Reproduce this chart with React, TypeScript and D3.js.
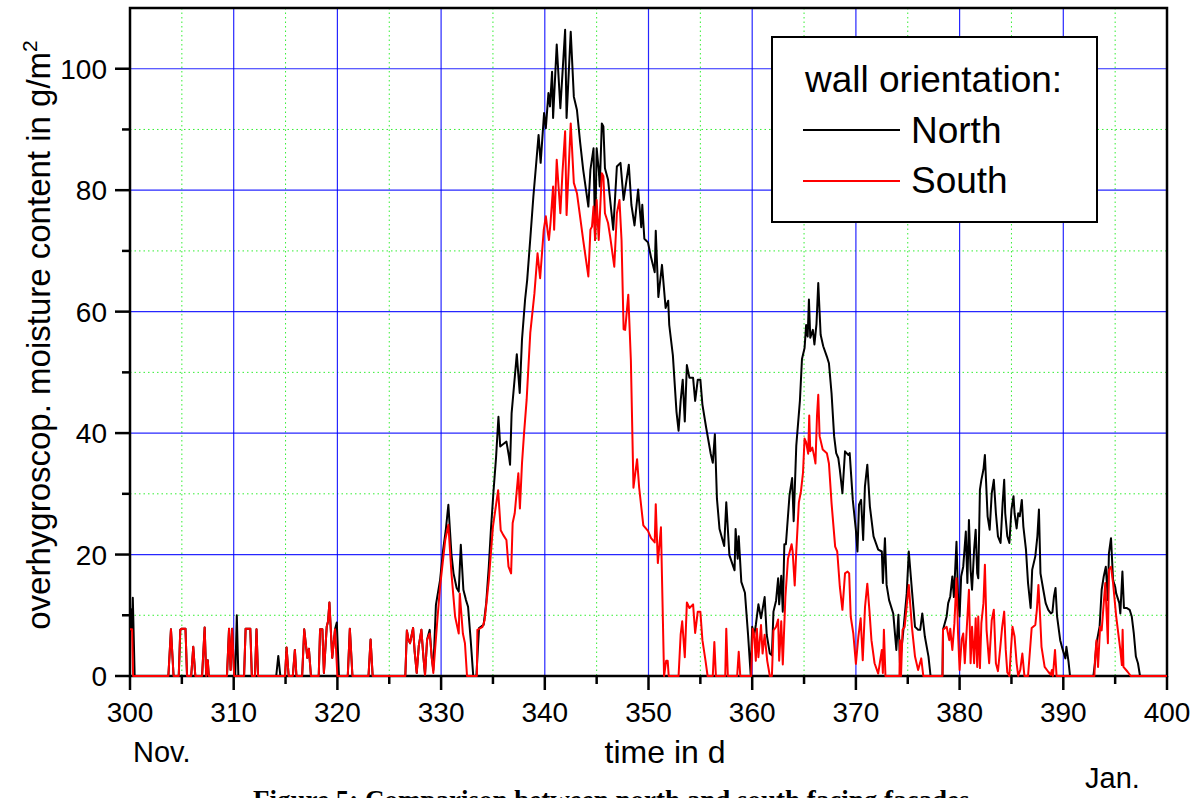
import React from "react";
import * as d3 from "d3";

// ---- data (day of year, overhygroscopic moisture content g/m²) ----
const northSeries: [number, number][] = [
  [300, 8.5], [300.1, 11], [300.2, 7.5], [300.27, 12.9], [300.45, 0],
  [303.7, 0], [303.95, 7.7], [304.2, 0],
  [304.7, 0], [304.85, 7.6], [305.0, 7.8], [305.35, 7.8], [305.5, 0],
  [305.9, 0], [306.1, 4.8], [306.3, 0],
  [306.95, 0], [307.2, 8], [307.35, 0], [307.5, 2.6], [307.6, 0],
  [309.35, 0], [309.55, 7.8], [309.7, 1], [309.85, 7.8], [310.05, 0], [310.15, 0], [310.3, 10], [310.45, 0],
  [311.0, 0], [311.15, 7.8], [311.6, 7.8], [311.75, 0],
  [312.05, 0], [312.2, 7.7], [312.35, 0],
  [314.1, 0], [314.3, 3.3], [314.5, 0],
  [314.95, 0], [315.1, 4.7], [315.3, 0],
  [315.7, 0], [315.9, 4.3], [316.05, 0],
  [316.6, 0], [316.8, 7.7], [317.1, 3], [317.25, 4.5], [317.45, 0],
  [318.2, 0], [318.33, 7.7], [318.55, 7.7], [318.7, 0.5], [318.97, 8.1], [319.1, 9], [319.23, 12.1], [319.5, 3],
  [319.77, 7.7], [319.94, 8.8], [320.15, 0],
  [321.0, 0], [321.2, 7.8], [321.45, 0],
  [323.0, 0], [323.2, 6], [323.4, 0],
  [326.55, 0], [326.7, 7.5], [326.85, 6], [327.0, 5.4], [327.3, 7.9], [327.45, 4], [327.65, 0.5], [327.85, 5],
  [328.1, 7.6], [328.3, 3], [328.45, 0.2], [328.65, 6], [328.9, 7.6], [329.1, 3], [329.25, 1],
  [329.5, 11.7], [329.9, 15.8], [330.2, 20.8], [330.45, 24], [330.7, 28.2], [331.0, 20], [331.2, 16.9],
  [331.5, 14.5], [331.7, 13.9], [331.9, 21.6], [332.15, 14.2], [332.4, 12.5], [332.6, 11.4], [332.85, 6],
  [333.1, 0], [333.4, 0], [333.66, 7.9], [333.9, 8.2], [334.1, 8.4], [334.35, 12], [334.6, 18], [334.8, 24],
  [335.04, 30.1], [335.3, 36], [335.53, 42.7], [335.7, 37.8], [336.0, 38.2], [336.3, 38.6], [336.55, 36.1],
  [336.65, 34.8], [336.8, 43.3], [337.3, 53], [337.58, 46.6], [337.8, 55.4], [338.1, 62], [338.3, 65.2],
  [338.6, 72], [338.9, 79], [339.15, 84], [339.4, 89.1], [339.6, 84.5], [339.93, 92.7], [340.1, 90.2],
  [340.35, 96], [340.5, 93.8], [340.7, 99.5], [340.8, 91.9], [341.15, 104], [341.5, 93.5], [341.96, 106.4],
  [342.1, 91.9], [342.5, 106.1], [342.8, 95.4], [343.1, 93.2], [343.4, 88], [343.7, 83.4], [344.2, 77.3],
  [344.4, 83.4], [344.7, 86.9], [344.85, 71.8], [345.0, 86.9], [345.2, 83.4], [345.3, 80.6], [345.5, 91],
  [345.65, 90.5], [345.8, 83.6], [346.1, 81.7], [346.6, 73.5], [346.95, 83.9], [347.3, 84.5], [347.6, 78.4],
  [348.1, 84.2], [348.35, 77.6], [348.65, 74.2], [349.0, 80.1], [349.3, 73.9], [349.4, 77.6], [349.6, 72],
  [349.95, 71.4], [350.25, 68.9], [350.6, 66.5], [350.7, 73.3], [350.95, 62.4], [351.3, 67.7], [351.65, 60.6],
  [351.9, 61.8], [352.0, 57.8], [352.35, 52.8], [352.7, 43.5], [352.9, 40.4], [353.1, 45.3], [353.3, 48.8],
  [353.5, 41.9], [353.7, 51.2], [353.95, 49.1], [354.3, 49.1], [354.5, 45.3], [354.75, 48.8], [355.0, 48.8],
  [355.2, 44.7], [355.55, 41], [356.0, 36.6], [356.2, 35.1], [356.4, 39.8], [356.6, 29.2], [356.85, 24.2],
  [357.3, 21.4], [357.5, 28.6], [357.8, 19.9], [358.3, 17.4], [358.4, 24.2], [358.6, 19.3], [358.7, 23],
  [358.95, 15.5], [359.3, 13.7], [359.6, 6.8], [359.85, 0.3], [360.0, 8.1], [360.2, 6.8], [360.35, 8.4],
  [360.6, 11.8], [360.85, 9.5], [361.2, 13], [361.4, 6.8], [361.7, 3.7], [361.9, 3.4], [362.05, 10.6],
  [362.3, 12.4], [362.5, 16.1], [362.6, 11.8], [362.8, 16.5], [362.95, 10.6], [363.1, 21.7], [363.25, 21.7],
  [363.6, 29.8], [363.85, 32.6], [364.0, 25.5], [364.25, 37.9], [364.6, 45.3], [364.8, 52.2], [365.05, 54],
  [365.2, 57.8], [365.35, 55.9], [365.47, 62], [365.6, 55.7], [365.85, 57], [366.0, 54.6], [366.2, 58],
  [366.37, 64.7], [366.6, 56.2], [366.85, 54.3], [367.2, 52.6], [367.4, 51.5], [367.65, 46.6], [367.9, 39.5],
  [368.1, 36.7], [368.3, 35.9], [368.45, 34], [368.7, 30.1], [368.95, 37], [369.26, 36.4], [369.4, 36.7],
  [369.7, 29], [370.0, 24], [370.15, 20.5], [370.3, 28.2], [370.5, 29], [370.7, 22.4], [370.87, 31.2],
  [371.1, 34.8], [371.35, 27.9], [371.7, 23], [372.15, 20.8], [372.5, 20.5], [372.6, 15.3], [372.8, 22.7],
  [372.96, 15], [373.2, 12.5], [373.6, 10.3], [373.9, 4.3], [374.1, 10.1], [374.25, 2.1], [374.55, 7],
  [374.9, 13.6], [375.1, 20.5], [375.4, 14.2], [375.7, 8.1], [376.0, 7.6], [376.2, 7.6], [376.4, 10.3],
  [376.65, 6.5], [377.0, 3.2], [377.2, 0], [378.35, 0], [378.4, 7.6], [378.75, 9.8], [378.9, 12],
  [379.1, 13.1], [379.3, 16.4], [379.45, 13], [379.7, 22.1], [379.85, 13.1], [380.0, 9.8], [380.15, 16.4],
  [380.35, 18], [380.6, 23.8], [380.75, 15.3], [380.9, 25.7], [381.06, 17.5], [381.2, 14.2], [381.4, 20.8],
  [381.55, 24.1], [381.7, 16.9], [381.8, 16.1], [381.96, 30.7], [382.1, 32.3], [382.3, 34], [382.44, 36.4],
  [382.7, 26.3], [382.9, 24.1], [383.1, 30.1], [383.3, 32.3], [383.5, 26.8], [383.7, 23], [383.95, 21.9],
  [384.15, 28.5], [384.3, 32.3], [384.4, 26.8], [384.6, 23], [384.8, 21.9], [385.0, 27.4], [385.2, 29.6],
  [385.3, 26.8], [385.5, 24.3], [385.65, 26.8], [385.8, 26.3], [386.0, 29], [386.15, 24.6], [386.4, 20.8],
  [386.6, 15.3], [386.85, 11.2], [387.0, 17.5], [387.3, 19.7], [387.5, 23], [387.65, 27.4], [387.8, 16.9],
  [388.07, 14.2], [388.3, 12], [388.55, 10.9], [388.8, 10.3], [388.95, 10.5], [389.1, 13.1], [389.25, 14.5],
  [389.4, 9.8], [389.7, 5.9], [389.95, 4.3], [390.2, 2.9], [390.3, 4.8], [390.5, 2.4], [390.65, 0],
  [392.9, 0], [393.05, 2.1], [393.2, 5.4], [393.5, 8.1], [393.7, 14.2], [393.9, 16.4], [394.1, 18],
  [394.3, 12.5], [394.4, 20.2], [394.6, 22.7], [394.8, 15.8], [395.0, 14.7], [395.1, 13.6], [395.4, 12],
  [395.5, 10.3], [395.7, 17.2], [395.85, 11.2], [396.1, 11.2], [396.4, 10.9], [396.6, 9.8], [396.8, 7],
  [397.0, 3.2], [397.2, 2.1], [397.4, 0], [400, 0],
];

const southSeries: [number, number][] = [
  [300, 7.7], [300.2, 7.7], [300.3, 0],
  [303.7, 0], [303.95, 7.7], [304.2, 0],
  [304.7, 0], [304.85, 7.6], [305.0, 7.8], [305.35, 7.8], [305.5, 0],
  [305.9, 0], [306.1, 4.8], [306.3, 0],
  [306.95, 0], [307.2, 8], [307.35, 0], [307.5, 2.6], [307.6, 0],
  [309.35, 0], [309.55, 7.8], [309.7, 1], [309.85, 7.8], [310.05, 0],
  [311.0, 0], [311.15, 7.8], [311.6, 7.8], [311.75, 0],
  [312.05, 0], [312.2, 7.7], [312.35, 0],
  [314.95, 0], [315.1, 4.7], [315.3, 0],
  [315.7, 0], [315.9, 4.3], [316.05, 0],
  [316.6, 0], [316.8, 7.7], [317.1, 3], [317.25, 4.5], [317.45, 0],
  [318.2, 0], [318.33, 7.7], [318.55, 7.7], [318.7, 0.5], [318.97, 8.1], [319.1, 9], [319.23, 12.1], [319.5, 3],
  [319.77, 7.7], [320.0, 0],
  [321.0, 0], [321.2, 7.8], [321.45, 0],
  [323.0, 0], [323.2, 6], [323.4, 0],
  [326.55, 0], [326.7, 7.5], [326.85, 6], [327.0, 5.4], [327.3, 7.9], [327.45, 4], [327.65, 0.5], [327.85, 5],
  [328.1, 7.6], [328.3, 3], [328.45, 0.2], [328.65, 6], [328.9, 7], [329.1, 3], [329.25, 0.5],
  [329.6, 8.4], [329.9, 14.7], [330.4, 22.4], [330.7, 24.9], [331.0, 16.9], [331.35, 9.8], [331.7, 7],
  [331.8, 13.6], [332.1, 7], [332.3, 5.4], [332.5, 0], [333.45, 0], [333.5, 7.6], [334.0, 8.1], [334.2, 9.2],
  [334.6, 15.8], [335.0, 24.6], [335.5, 30.6], [335.75, 24], [336.0, 23.2], [336.3, 22.4], [336.5, 18],
  [336.75, 16.9], [336.9, 25.2], [337.1, 26.8], [337.45, 33.4], [337.6, 27.6], [337.8, 35], [338.0, 40],
  [338.25, 45.5], [338.6, 56.5], [339.0, 63], [339.3, 69.6], [339.55, 65.5], [339.9, 73.5], [340.1, 75.7],
  [340.3, 72.9], [340.4, 71.8], [340.55, 74.6], [340.8, 80.6], [340.9, 73.5], [341.15, 85], [341.5, 76.2],
  [341.7, 82.8], [341.96, 89.7], [342.1, 75.9], [342.5, 91], [342.8, 81.2], [343.1, 79.5], [343.4, 75.7],
  [343.7, 71.8], [344.2, 65.8], [344.4, 73.5], [344.55, 74], [344.7, 77.3], [344.85, 71.8], [345.0, 78.4],
  [345.2, 71.8], [345.5, 82.8], [345.65, 82.3], [345.8, 76.2], [346.1, 74.6], [346.3, 72.4], [346.7, 67.4],
  [346.95, 76.2], [347.2, 78.4], [347.4, 71.8], [347.6, 57.1], [347.75, 57], [348.05, 62.8], [348.3, 52],
  [348.55, 31], [348.9, 35.7], [349.1, 31], [349.5, 24.8], [349.95, 23.9], [350.25, 22.7], [350.6, 22],
  [350.7, 28.3], [350.9, 18.6], [351.2, 24.5], [351.5, 0], [351.7, 2.5], [351.85, 2.5], [351.95, 0],
  [352.9, 0], [353.1, 6.8], [353.25, 9], [353.5, 3.1], [353.7, 12.1], [353.95, 11.2], [354.3, 11.8],
  [354.5, 7.1], [354.75, 10.6], [355.0, 10.6], [355.2, 5.9], [355.5, 2.5], [355.7, 0], [356.2, 0],
  [356.35, 5.6], [356.5, 0], [357.4, 0], [357.5, 7.8], [357.65, 0], [358.55, 0], [358.7, 4], [358.85, 0],
  [359.9, 0], [360.05, 7.8], [360.2, 6.8], [360.35, 2.5], [360.45, 7.8], [360.6, 3.1], [360.85, 8.4],
  [361.0, 3.7], [361.2, 6.8], [361.45, 2.5], [361.7, 0], [361.9, 0], [362.05, 7.5], [362.3, 8.1],
  [362.5, 9.3], [362.6, 2.5], [362.8, 9], [362.95, 1.9], [363.2, 13], [363.45, 19.3], [363.8, 21.7],
  [363.9, 20.5], [364.1, 14.9], [364.25, 20.5], [364.5, 28.6], [364.7, 30.4], [364.9, 33.5], [365.05, 39.1],
  [365.2, 38.5], [365.4, 36.6], [365.5, 42.9], [365.6, 37], [365.8, 37.6], [366.0, 36], [366.1, 35],
  [366.25, 42.9], [366.37, 46.3], [366.5, 39.5], [366.8, 37.3], [367.2, 36.7], [367.4, 35], [367.65, 28.5],
  [368.0, 21.3], [368.2, 20.5], [368.45, 14.7], [368.7, 10.9], [368.95, 16.9], [369.2, 17.2], [369.35, 16.9],
  [369.5, 9.8], [369.75, 7], [370.0, 2], [370.24, 6.5], [370.46, 9.5], [370.66, 2.6], [370.88, 11.4],
  [371.1, 15.2], [371.3, 10.9], [371.5, 5.9], [371.8, 2.1], [372.15, 0.4], [372.5, 4.3], [372.6, 0.5],
  [372.7, 7.6], [372.85, 0], [374.2, 0], [374.25, 5.9], [374.35, 0], [374.5, 7.6], [374.7, 8.1],
  [375.1, 15], [375.4, 8.1], [375.7, 3.2], [376.0, 1], [376.3, 2.9], [376.5, 0], [378.35, 0],
  [378.4, 7.6], [378.75, 8.1], [379.0, 5.9], [379.1, 7.8], [379.3, 4.3], [379.5, 8.7], [379.7, 16.1],
  [379.85, 7], [380.0, 1], [380.2, 6], [380.35, 7], [380.5, 2.1], [380.7, 8.1], [380.9, 14.2],
  [381.06, 2.1], [381.2, 8.1], [381.4, 2.1], [381.55, 9.5], [381.7, 1.5], [381.8, 9.8], [381.96, 1.3],
  [382.1, 8.7], [382.3, 12], [382.44, 18.3], [382.6, 7.6], [382.85, 2.1], [383.1, 9.2], [383.3, 10.9],
  [383.5, 2.1], [383.7, 0.8], [383.9, 4.3], [384.1, 8], [384.3, 10.6], [384.45, 4.3], [384.6, 0.6],
  [384.8, 0], [384.95, 4.3], [385.1, 8.1], [385.3, 6.5], [385.5, 2.1], [385.65, 0], [385.85, 1],
  [386.05, 3.7], [386.25, 0], [386.6, 0], [386.95, 7.9], [387.3, 8.4], [387.45, 10.9], [387.6, 15],
  [387.75, 10.3], [387.9, 4.8], [388.2, 1.5], [388.55, 0.7], [388.8, 0.2], [388.9, 1], [389.0, 0],
  [389.2, 4.3], [389.35, 0], [393.0, 0], [393.05, 2.6], [393.2, 5.9], [393.35, 1.5], [393.55, 8.1],
  [393.7, 7.5], [393.9, 12], [394.05, 15.3], [394.3, 5.4], [394.4, 17.5], [394.6, 18], [394.8, 15.3],
  [395.1, 9.8], [395.5, 4.3], [395.65, 1.8], [395.72, 7.6], [395.8, 1.5], [396.2, 0.7], [396.5, 0],
  [400, 0],
];

const xMajorTicks = [300, 310, 320, 330, 340, 350, 360, 370, 380, 390, 400];
const xMinorTicks = [305, 315, 325, 335, 345, 355, 365, 375, 385, 395];
const yMajorTicks = [0, 20, 40, 60, 80, 100];
const yMinorTicks = [10, 30, 50, 70, 90];
const legendTitle = "wall orientation:";
const seriesNames = ["North", "South"];
const seriesColors = ["#000000", "#ff0000"];

const FONT = "'Liberation Sans', Arial, Helvetica, sans-serif";

export default function App() {
  const left = 130, right = 1167, top = 8, bottom = 676;
  const x = d3.scaleLinear().domain([300, 400]).range([left, right]);
  const y = d3.scaleLinear().domain([0, 110]).range([bottom, top]);
  const line = d3
    .line<[number, number]>()
    .x((d) => x(d[0]))
    .y((d) => y(d[1]));

  return (
    <svg
      width={1200}
      height={798}
      style={{ position: "absolute", left: 0, top: 0, background: "#fff" }}
      fontFamily={FONT}
    >
      <defs>
        <clipPath id="plotclip">
          <rect x={left} y={top} width={right - left} height={bottom - top + 2} />
        </clipPath>
      </defs>
      <rect x={0} y={0} width={1200} height={798} fill="#fff" />

      {/* minor grid */}
      {xMinorTicks.map((t) => (
        <line key={"gx" + t} x1={x(t)} x2={x(t)} y1={top} y2={bottom} stroke="#33ee33" strokeWidth={1} strokeDasharray="1.5,3" />
      ))}
      {yMinorTicks.map((t) => (
        <line key={"gy" + t} x1={left} x2={right} y1={y(t)} y2={y(t)} stroke="#33ee33" strokeWidth={1} strokeDasharray="1.5,3" />
      ))}
      {/* major grid */}
      {xMajorTicks.slice(1, -1).map((t) => (
        <line key={"Gx" + t} x1={x(t)} x2={x(t)} y1={top} y2={bottom} stroke="#0000ff" strokeWidth={1.2} strokeOpacity={0.85} />
      ))}
      {yMajorTicks.slice(1).map((t) => (
        <line key={"Gy" + t} x1={left} x2={right} y1={y(t)} y2={y(t)} stroke="#0000ff" strokeWidth={1.2} strokeOpacity={0.85} />
      ))}

      {/* frame */}
      <rect x={left} y={top} width={right - left} height={bottom - top} fill="none" stroke="#000" strokeWidth={2.5} />

      {/* x ticks */}
      {xMajorTicks.map((t) => (
        <g key={"xt" + t}>
          <line x1={x(t)} x2={x(t)} y1={bottom} y2={bottom + 14} stroke="#000" strokeWidth={2.5} />
          <text x={x(t)} y={722} textAnchor="middle" fontSize={28} fill="#000">{t}</text>
        </g>
      ))}
      {xMinorTicks.map((t) => (
        <line key={"xm" + t} x1={x(t)} x2={x(t)} y1={bottom} y2={bottom + 8} stroke="#000" strokeWidth={2.5} />
      ))}
      {/* y ticks */}
      {yMajorTicks.map((t) => (
        <g key={"yt" + t}>
          <line x1={left - 15} x2={left} y1={y(t)} y2={y(t)} stroke="#000" strokeWidth={2.5} />
          <text x={107} y={y(t)} dy="0.36em" textAnchor="end" fontSize={28} fill="#000">{t}</text>
        </g>
      ))}
      {yMinorTicks.map((t) => (
        <line key={"ym" + t} x1={left - 8} x2={left} y1={y(t)} y2={y(t)} stroke="#000" strokeWidth={2.5} />
      ))}

      {/* series (drawn over the axis, as in the reference) */}
      <g clipPath="url(#plotclip)">
        <path d={line(northSeries) || ""} fill="none" stroke={seriesColors[0]} strokeWidth={2} strokeLinejoin="round" />
        <path d={line(southSeries) || ""} fill="none" stroke={seriesColors[1]} strokeWidth={2} strokeLinejoin="round" />
      </g>

      {/* axis titles */}
      <text x={665} y={763} textAnchor="middle" fontSize={32} fill="#000">time in d</text>
      <text x={133} y={762} fontSize={29} fill="#000">Nov.</text>
      <text x={1085} y={788} fontSize={29} fill="#000">Jan.</text>
      <text transform="translate(50,335) rotate(-90)" textAnchor="middle" fontSize={33} fill="#000">
        overhygroscop. moisture content in g/m<tspan fontSize={21} dy={-13}>2</tspan>
      </text>

      {/* legend */}
      <rect x={772} y={37} width={325} height={185} fill="#fff" stroke="#000" strokeWidth={2} />
      <text x={805} y={92} fontSize={37} fill="#000">{legendTitle}</text>
      {seriesNames.map((n, i) => (
        <g key={n}>
          <line x1={803} x2={900} y1={130 + i * 51} y2={130 + i * 51} stroke={seriesColors[i]} strokeWidth={2} />
          <text x={911} y={143 + i * 50} fontSize={37} fill="#000">{n}</text>
        </g>
      ))}

      {/* caption (cut off at bottom of the image, as in the reference) */}
      <text x={253} y={809} fontSize={27} fontWeight="bold" fontFamily="'Liberation Serif', 'Times New Roman', serif" fill="#000">
        Figure 5: Comparison between north and south facing facades
      </text>
    </svg>
  );
}
